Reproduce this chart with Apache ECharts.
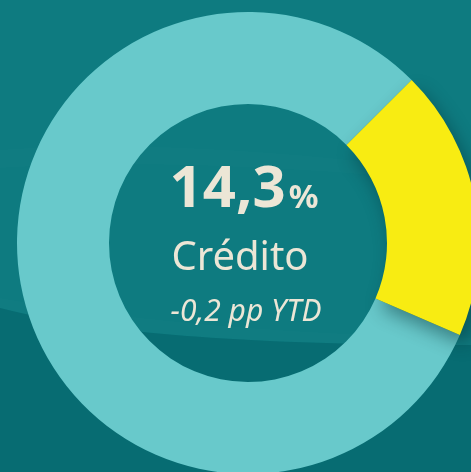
<!DOCTYPE html>
<html>
<head>
<meta charset="utf-8">
<script src="https://cdn.jsdelivr.net/npm/echarts@6/dist/echarts.min.js"></script>
<style>
  html, body { margin: 0; padding: 0; background: #0e7b80; }
  #main { width: 471px; height: 472px; }
</style>
</head>
<body>
<div id="main"></div>
<script>
// datos
var categories = ['Resto', 'Crédito'];
var values = [81, 19];
var colors = ['#68c9cb', '#f8ec12'];

var headline = '14,3';
var subtitle = 'Crédito';
var change = '-0,2 pp YTD';

// curva suave para las ondas del fondo
function wave(p0, p1, p2, p3, n) {
  var pts = [];
  for (var i = 0; i <= n; i++) {
    var t = i / n, u = 1 - t;
    pts.push([
      u * u * u * p0[0] + 3 * u * u * t * p1[0] + 3 * u * t * t * p2[0] + t * t * t * p3[0],
      u * u * u * p0[1] + 3 * u * u * t * p1[1] + 3 * u * t * t * p2[1] + t * t * t * p3[1]
    ]);
  }
  return pts;
}
function band(top, bottom) {
  return top.concat(bottom.slice().reverse());
}

var chartDom = document.getElementById('main');
var myChart = echarts.init(chartDom);
var option;

option = {
  backgroundColor: '#0e7b80',
  animation: false,
  graphic: [
    {
      type: 'polygon',
      z: -1,
      shape: { points: band(wave([0, 150], [120, 140], [300, 150], [471, 175], 40), wave([0, 168], [120, 160], [300, 165], [471, 185], 40)) },
      style: { fill: 'rgba(255,255,255,0.012)' }
    },
    {
      type: 'polygon',
      z: -1,
      shape: { points: band(wave([0, 298], [120, 318], [250, 333], [471, 338], 40), wave([0, 308], [80, 328], [200, 345], [471, 345], 40)) },
      style: { fill: 'rgba(255,255,255,0.01)' }
    },
    {
      type: 'polygon',
      z: -1,
      shape: { points: wave([0, 308], [80, 328], [200, 345], [471, 345], 40).concat([[471, 472], [0, 472]]) },
      style: { fill: '#076c72' }
    },
    {
      type: 'text',
      z: 10,
      x: 244,
      y: 190,
      style: {
        text: '{a|' + headline + '}{b|%}',
        align: 'center',
        verticalAlign: 'middle',
        fill: '#ece6d6',
        rich: {
          a: { fontFamily: 'Noto Sans', fontWeight: 'bold', fontSize: 58, lineHeight: 58, fill: '#ece6d6', verticalAlign: 'bottom' },
          b: { fontFamily: 'Noto Sans', fontWeight: 'bold', fontSize: 33, lineHeight: 33, fill: '#ece6d6', verticalAlign: 'bottom', padding: [0, 0, 4, 3] }
        }
      }
    },
    {
      type: 'text',
      z: 10,
      x: 240,
      y: 259,
      style: {
        text: subtitle,
        align: 'center',
        verticalAlign: 'middle',
        fill: '#ece6d6',
        font: '40px "Noto Sans"'
      }
    },
    {
      type: 'text',
      z: 10,
      x: 246,
      y: 312,
      style: {
        text: change,
        align: 'center',
        verticalAlign: 'middle',
        fill: '#ece6d6',
        font: 'italic 30px "Noto Sans"'
      }
    }
  ],
  series: [
    {
      type: 'pie',
      center: [248, 243],
      radius: [139, 231],
      startAngle: -23.5,
      clockwise: true,
      silent: true,
      label: { show: false },
      labelLine: { show: false },
      data: categories.map(function (c, i) {
        var item = { name: c, value: values[i], itemStyle: { color: colors[i] } };
        if (i === 1) {
          item.itemStyle.shadowBlur = 18;
          item.itemStyle.shadowColor = 'rgba(0,40,45,0.45)';
          item.itemStyle.shadowOffsetX = 6;
          item.itemStyle.shadowOffsetY = 10;
        }
        return item;
      })
    }
  ]
};

option && myChart.setOption(option);
</script>
</body>
</html>
